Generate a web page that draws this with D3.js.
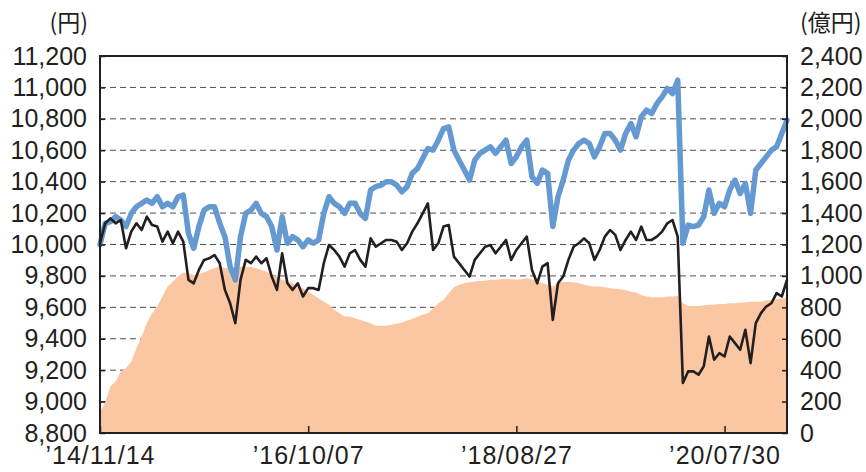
<!DOCTYPE html>
<html>
<head>
<meta charset="utf-8">
<script src="https://cdn.jsdelivr.net/npm/d3@7"></script>
<style>
  body { margin: 0; background: #fff; }
  svg text { font-family: 'Liberation Sans', Arial, sans-serif; fill: #231f20; }
  .unit { font-family: 'Noto Sans CJK JP', sans-serif; }
</style>
</head>
<body>
<svg width="866" height="472"></svg>
<script>
// 分配金再投資基準価額 (blue, left axis, 円)
const navReinvest = [10000,10135,10145,10177,10156,10114,10198,10240,10262,10283,
  10262,10304,10240,10262,10240,10304,10315,10071,9976,10114,
  10219,10240,10240,10135,10050,9859,9775,10050,10198,10219,
  10262,10198,10177,10114,9965,10177,10008,10050,10029,9986,
  10029,10008,10029,10198,10304,10262,10240,10198,10262,10262,
  10198,10166,10347,10368,10378,10400,10400,10378,10336,10368,
  10453,10484,10548,10611,10601,10664,10738,10749,10601,10537,
  10474,10410,10537,10580,10601,10622,10580,10622,10664,10516,
  10558,10622,10664,10431,10389,10474,10453,10114,10304,10410,
  10537,10601,10643,10664,10643,10558,10622,10707,10707,10664,
  10601,10707,10770,10686,10813,10855,10834,10897,10940,10993,
  10961,11046,10008,10124,10114,10124,10177,10347,10198,10262,
  10240,10347,10410,10325,10389,10198,10474,10516,10558,10601,
  10622,10707,10792]

// 基準価額 (black, left axis, 円)
const nav = [10008,10135,10166,10135,10156,9976,10082,10135,10092,10177,
  10124,10114,10018,10082,10008,10082,10018,9775,9753,9838,
  9902,9912,9933,9881,9711,9626,9499,9775,9902,9881,
  9923,9881,9912,9796,9711,9944,9753,9711,9753,9669,
  9722,9722,9711,9881,9997,9965,9923,9859,9944,9965,
  9902,9859,10039,9986,10008,10029,10029,10018,9965,10008,
  10082,10135,10198,10262,9965,10008,10114,10124,9923,9881,
  9838,9796,9902,9944,9986,9997,9944,9986,10029,9902,
  9965,10008,10050,9838,9753,9859,9881,9520,9753,9796,
  9902,9986,10008,10039,10008,9902,9965,10050,10092,10061,
  9965,10029,10082,10029,10114,10029,10029,10050,10082,10135,
  10156,10050,9118,9192,9192,9171,9224,9414,9266,9308,
  9287,9414,9372,9330,9457,9245,9499,9563,9605,9626,
  9690,9669,9775]

// 純資産総額 (area, right axis, 億円)
const netAssets = [138,191,297,328,392,413,455,540,614,699,
  763,805,869,932,964,996,1021,1017,1006,1013,
  1021,1038,1049,1064,1049,1049,1059,1059,1055,1059,
  1049,1038,1028,1006,996,975,964,953,932,922,
  900,879,858,837,816,784,763,742,742,731,
  720,710,699,682,682,682,689,695,703,716,
  725,742,752,763,794,826,847,890,928,943,
  953,960,964,968,970,975,975,979,981,979,
  975,979,985,979,964,953,943,932,953,962,
  962,960,953,943,936,932,932,928,922,919,
  915,911,900,894,879,869,864,864,864,869,
  869,873,826,809,809,809,814,816,818,822,
  822,826,826,830,830,835,835,837,843,847,
  852,858,858]

const leftTicks = [8800,9000,9200,9400,9600,9800,10000,10200,10400,10600,10800,11000,11200]
const rightTicks = [0,200,400,600,800,1000,1200,1400,1600,1800,2000,2200,2400]
const dateTickIndex = [0, 40, 80, 120]
const dateTickLabels = ['’14/11/14', '’16/10/07', '’18/08/27', '’20/07/30']

const svg = d3.select('svg')
const width = +svg.attr('width')
const height = +svg.attr('height')
const margin = {top: 56, right: 79, bottom: 39, left: 100}
const innerWidth = width - margin.left - margin.right
const innerHeight = height - margin.top - margin.bottom
const g = svg.append('g').attr('transform', `translate(${margin.left}, ${margin.top})`)

const xScale = d3.scaleLinear().domain([0, navReinvest.length - 1]).range([0, innerWidth])
const yLeft = d3.scaleLinear().domain([8800, 11200]).range([innerHeight, 0])
const yRight = d3.scaleLinear().domain([0, 2400]).range([innerHeight, 0])

// dashed grid
g.selectAll('.grid')
  .data(leftTicks.slice(1, -1))
  .join('line')
  .attr('x1', 0).attr('x2', innerWidth)
  .attr('y1', d => yLeft(d)).attr('y2', d => yLeft(d))
  .attr('stroke', '#4d4d4d').attr('stroke-width', 1)
  .attr('stroke-dasharray', '6,4')

// area
const area = d3.area()
  .x((d, i) => xScale(i))
  .y0(innerHeight)
  .y1(d => yRight(d))
g.append('path').datum(netAssets)
  .attr('d', area)
  .attr('fill', '#fbc6a2')

const line = d3.line().x((d, i) => xScale(i)).y(d => yLeft(d))
g.append('path').datum(navReinvest)
  .attr('d', line)
  .attr('fill', 'none')
  .attr('stroke', '#6499d2')
  .attr('stroke-width', 5.5)
  .attr('stroke-linejoin', 'round')
  .attr('stroke-linecap', 'round')
g.append('path').datum(nav)
  .attr('d', line)
  .attr('fill', 'none')
  .attr('stroke', '#231f20')
  .attr('stroke-width', 2.6)
  .attr('stroke-linejoin', 'round')

// axes
const fmt = d3.format(',')
const leftAxis = g.append('g')
  .call(d3.axisLeft(yLeft).tickValues(leftTicks).tickFormat(fmt).tickSize(-5).tickPadding(13))
const rightAxis = g.append('g')
  .attr('transform', `translate(${innerWidth}, 0)`)
  .call(d3.axisRight(yRight).tickValues(rightTicks).tickFormat(fmt).tickSize(-5).tickPadding(13))
const bottomAxis = g.append('g')
  .attr('transform', `translate(0, ${innerHeight})`)
  .call(d3.axisBottom(xScale).tickValues(dateTickIndex)
    .tickFormat((d, i) => dateTickLabels[i]).tickSize(-7).tickPadding(13))

for (const ax of [leftAxis, rightAxis, bottomAxis]) {
  ax.select('.domain').remove()
  ax.selectAll('line').attr('stroke', '#231f20').attr('stroke-width', 1.5)
  ax.selectAll('text').attr('font-size', '25px').attr('fill', '#231f20')
}
bottomAxis.selectAll('text').attr('letter-spacing', '1px')

// frame
g.append('rect')
  .attr('width', innerWidth).attr('height', innerHeight)
  .attr('fill', 'none').attr('stroke', '#231f20').attr('stroke-width', 2)

// units
svg.append('text').attr('class', 'unit')
  .attr('x', 88).attr('y', 31).attr('text-anchor', 'end')
  .attr('font-size', '23px').text('(円)')
svg.append('text').attr('class', 'unit')
  .attr('x', 800).attr('y', 31)
  .attr('font-size', '23px').text('(億円)')
</script>
</body>
</html>
